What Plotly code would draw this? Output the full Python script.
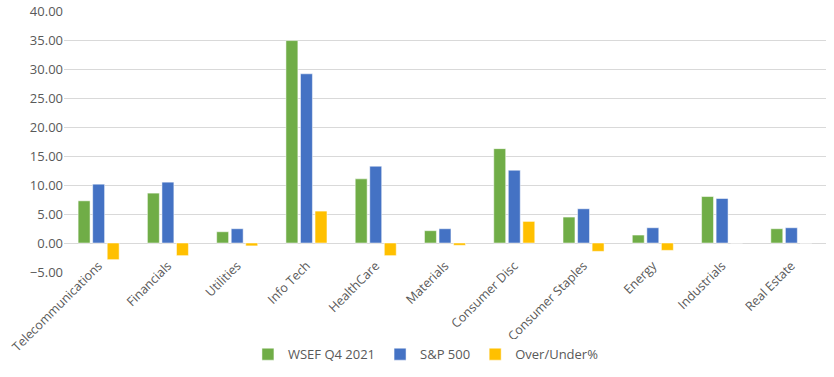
import plotly.graph_objects as go

categories = ["Telecommunications", "Financials", "Utilities", "Info Tech", "HealthCare",
              "Materials", "Consumer Disc", "Consumer Staples", "Energy", "Industrials", "Real Estate"]
wsef = [7.27, 8.60, 1.94, 34.90, 11.06, 2.12, 16.27, 4.47, 1.37, 8.01, 2.46]
sp500 = [10.14, 10.49, 2.46, 29.17, 13.24, 2.46, 12.55, 5.90, 2.63, 7.67, 2.63]
over_under = [-2.87, -2.18, -0.50, 5.50, -2.18, -0.40, 3.72, -1.44, -1.27, 0.00, 0.00]

series = [("WSEF Q4 2021", wsef, "#70AD47"),
          ("S&P 500", sp500, "#4472C4"),
          ("Over/Under%", over_under, "#FFC000")]

fig = go.Figure()
for name, vals, color in series:
    fig.add_trace(go.Bar(x=categories, y=vals, name=name, marker_color=color,
                         marker_line_color="white", marker_line_width=0.5))

font_color = "#595959"
fig.update_layout(
    width=834, height=377,
    margin=dict(l=64, r=8, t=11, b=105),
    paper_bgcolor="white", plot_bgcolor="white",
    barmode="group", bargap=0.37, bargroupgap=0.18,
    font=dict(family="Open Sans", size=12, color=font_color),
    showlegend=True,
    legend=dict(orientation="h", x=0.475, xanchor="center", y=-0.315, yanchor="middle",
                font=dict(size=13, color=font_color), itemwidth=30, traceorder="normal",
                tracegroupgap=0),
    xaxis=dict(tickangle=-45, showgrid=False, showline=False, ticks="",
               tickfont=dict(size=12.5, color=font_color), automargin=False,
               ticklabelstandoff=-17),
    yaxis=dict(range=[-5, 40], dtick=5, tickformat=".2f", showgrid=True,
               gridcolor="#D9D9D9", gridwidth=1, zeroline=True, zerolinecolor="#D9D9D9",
               zerolinewidth=1, showline=False, ticks="",
               tickfont=dict(size=13, color=font_color), automargin=False),
)

fig.write_html("out.html")
